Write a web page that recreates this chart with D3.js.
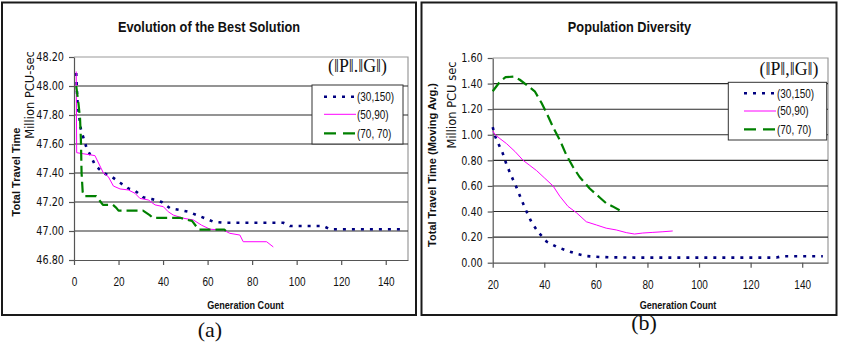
<!DOCTYPE html>
<html><head><meta charset="utf-8">
<script src="https://cdn.jsdelivr.net/npm/d3@7"></script>
<style>body{margin:0;background:#fff}</style>
</head><body>
<svg id="c" width="843" height="342" xmlns="http://www.w3.org/2000/svg"></svg>
<script>
// ---------- data ----------
const legendLabels = ["(30,150)", "(50,90)", "(70, 70)"];

const titleA = "Evolution of the Best Solution";
const headerA = "(\u2016P\u2016.\u2016G\u2016)";
const yTitleA = ["Total Travel Time", "Million PCU-sec"];
const xTicksA = [0, 20, 40, 60, 80, 100, 120, 140];
const yTicksA = [46.8, 47.0, 47.2, 47.4, 47.6, 47.8, 48.0, 48.2];

const titleB = "Population Diversity";
const headerB = "(\u2016P\u2016,\u2016G\u2016)";
const yTitleB = ["Total Travel Time (Moving Avg.)", "Million PCU sec"];
const xTicksB = [20, 40, 60, 80, 100, 120, 140];
const yTicksB = [0, 0.2, 0.4, 0.6, 0.8, 1.0, 1.2, 1.4, 1.6];
const xLabel = "Generation Count";

// Evolution of the best solution
const bestP30G150 = [[1,48.09],[1.5,47.90],[2,47.83],[3.1,47.70],[5.7,47.57],[7.5,47.52],[9.4,47.455],[13.2,47.40],[16.9,47.375],[20.7,47.333],[24.4,47.294],[27.4,47.278],[31.1,47.232],[35.6,47.218],[39.4,47.20],[43.1,47.157],[47.6,47.145],[51.3,47.133],[55.1,47.11],[58.8,47.088],[62.6,47.064],[67,47.057],[94,47.057],[97,47.034],[112,47.034],[115,47.012],[149,47.012]];
const bestP50G90 = [[1,48.10],[1.2,47.54],[9.4,47.52],[13.2,47.40],[15.4,47.375],[17.7,47.31],[20.7,47.29],[24.4,47.283],[27.4,47.26],[29.6,47.225],[33.4,47.214],[36.4,47.18],[40.1,47.168],[42.3,47.133],[44.6,47.11],[49.1,47.088],[53.6,47.076],[57.3,47.04],[61.1,47.012],[67,47.007],[70,46.984],[74.5,46.972],[76,46.926],[86.5,46.926],[89.5,46.89]];
const bestP70G70 = [[1,48.00],[2,47.88],[2.7,47.78],[3.1,47.63],[3.4,47.40],[3.9,47.27],[4.5,47.24],[10,47.24],[12,47.20],[13,47.18],[17.5,47.18],[19,47.16],[20,47.14],[31,47.14],[34,47.11],[35.5,47.09],[48,47.09],[50,47.08],[53,47.07],[55.5,47.02],[56,47.01],[67.5,47.01],[69,46.99]];

// Population diversity (moving average)
const divP30G150 = [[20,1.06],[20.9,0.99],[22.2,0.93],[23.9,0.855],[25.4,0.765],[27.3,0.675],[29.3,0.585],[31.2,0.49],[33.1,0.40],[35.1,0.315],[37.6,0.24],[40.9,0.165],[44.7,0.125],[48.6,0.095],[52.5,0.07],[56.3,0.052],[60.2,0.046],[65.3,0.042],[75,0.04],[100,0.04],[130,0.04],[132,0.05],[148,0.05]];
const divP50G90 = [[20,1.03],[21,1.0],[22.8,0.97],[25.4,0.93],[28.6,0.87],[31.8,0.80],[34.4,0.76],[37,0.72],[40.2,0.66],[43.4,0.60],[46,0.52],[49.2,0.44],[52.5,0.39],[56.3,0.32],[60.2,0.295],[64,0.27],[67.9,0.256],[71.8,0.235],[75,0.224],[78.2,0.232],[82.1,0.237],[86,0.242],[89.8,0.248]];
const divP70G70 = [[20,1.34],[22.8,1.415],[25,1.45],[28,1.455],[30.5,1.43],[33.8,1.38],[36.3,1.34],[38.9,1.25],[40.9,1.17],[43.4,1.06],[46,0.96],[48.6,0.84],[51.1,0.75],[53.7,0.67],[57.6,0.58],[61.5,0.51],[64,0.465],[66.5,0.44],[69.2,0.41]];

// ---------- styles ----------
const styles = [
  {stroke:"#000080", width:2.6, dash:"3,6", legendDash:"3,6"},
  {stroke:"#ff00ff", width:1, dash:null, legendDash:null},
  {stroke:"#008000", width:2.2, dash:"11,5", legendDash:"12,7"}
];
const SANS = "'Liberation Sans', Arial, sans-serif";
const SERIF = "'Liberation Serif', 'DejaVu Serif', serif";
const TAHOMA = "'DejaVu Sans', Verdana, sans-serif";

const svg = d3.select("#c");

function squeeze(sel, k){
  sel.each(function(){
    const w = this.getComputedTextLength();
    this.setAttribute("textLength", w * k);
    this.setAttribute("lengthAdjust", "spacingAndGlyphs");
  });
}

function panel(o){
  const g = svg.append("g");
  g.append("rect").attr("x",o.frame[0]).attr("y",o.frame[1]).attr("width",o.frame[2]).attr("height",o.frame[3])
    .attr("fill","#fff").attr("stroke","#1a1a1a").attr("stroke-width",2);

  const x = d3.scaleLinear().domain(o.xDomain).range([o.L, o.R]);
  const y = d3.scaleLinear().domain([o.yTicks[0], o.yTicks[o.yTicks.length-1]]).range([o.B, o.T]);

  // plot border (top/right)
  g.append("path").attr("d",`M${o.L},${o.T}H${o.R}V${o.B}`).attr("fill","none").attr("stroke","#9a9a9a").attr("stroke-width",1.2);
  // grid
  g.append("g").selectAll("line").data(o.yTicks.slice(1,-1)).join("line")
    .attr("x1",o.L).attr("x2",o.R).attr("y1",d=>y(d)).attr("y2",d=>y(d))
    .attr("stroke","#2a2a2a").attr("stroke-width",1.1);

  // axes
  const ya = g.append("g").attr("transform",`translate(${o.L},0)`)
    .call(d3.axisLeft(y).tickValues(o.yTicks).tickFormat(d3.format(".2f")).tickSize(5).tickSizeOuter(0).tickPadding(5));
  ya.attr("font-family",TAHOMA).attr("font-size",11.5);
  ya.selectAll("path,line").attr("stroke","#555").attr("stroke-width",1.2);
  ya.selectAll("text").attr("fill","#111");
  squeeze(ya.selectAll("text"), 0.84);

  const xa = g.append("g").attr("transform",`translate(0,${o.B})`)
    .call(d3.axisBottom(x).tickValues(o.xTicks).tickSize(5).tickSizeOuter(0).tickPadding(12));
  xa.attr("font-family",SANS).attr("font-size",13);
  xa.selectAll("path,line").attr("stroke","#555").attr("stroke-width",1.2);
  xa.selectAll("text").attr("fill","#111");
  squeeze(xa.selectAll("text"), 0.77);

  // series
  const line = d3.line().x(d=>x(d[0])).y(d=>y(d[1]));
  o.series.forEach((s,i)=>{
    const st = styles[i];
    g.append("path").datum(s).attr("d",line).attr("fill","none")
      .attr("stroke",st.stroke).attr("stroke-width",st.width)
      .attr("stroke-dasharray",st.dash).attr("stroke-linejoin","round");
  });

  // titles
  const t = g.append("text").attr("x",o.titleX).attr("y",31.5).attr("text-anchor","middle")
    .attr("font-family",SANS).attr("font-weight","bold").attr("font-size",15).attr("fill","#111").text(o.title);
  squeeze(t, 0.85);
  const xl = g.append("text").attr("x",o.xLabelX).attr("y",308.5).attr("text-anchor","middle")
    .attr("font-family",SANS).attr("font-weight","bold").attr("font-size",11.5).attr("fill","#111").text(xLabel);
  squeeze(xl, 0.79);

  // y titles
  g.append("text").attr("transform",`translate(${o.yt1[0]},${o.yt1[1]}) rotate(-90)`).attr("text-anchor","middle")
    .attr("font-family",SANS).attr("font-weight","bold").attr("font-size",11).attr("fill","#111").text(o.yTitle[0]);
  g.append("text").attr("transform",`translate(${o.yt2[0]},${o.yt2[1]}) rotate(-90)`).attr("text-anchor","middle")
    .attr("font-family",TAHOMA).attr("font-size",11.5).attr("fill","#111").text(o.yTitle[1]);

  // header
  const h = g.append("text").attr("x",o.header[0]).attr("y",o.header[1]).attr("text-anchor","middle")
    .attr("font-family",SERIF).attr("font-size",18).attr("fill","#111").text(o.headerText);
  h.attr("textLength",59).attr("lengthAdjust","spacingAndGlyphs");

  // legend
  const lb = o.legend;
  g.append("rect").attr("x",lb.x).attr("y",lb.y).attr("width",lb.w).attr("height",lb.h)
    .attr("fill","#fff").attr("stroke","#333").attr("stroke-width",1);
  legendLabels.forEach((lab,i)=>{
    const yy = lb.rows[i];
    const st = styles[i];
    g.append("line").attr("x1",lb.lx0).attr("x2",lb.lx1).attr("y1",yy).attr("y2",yy)
      .attr("stroke",st.stroke).attr("stroke-width",st.width).attr("stroke-dasharray",st.legendDash);
    const tx = g.append("text").attr("x",lb.lx1+1).attr("y",yy).attr("dy","0.36em")
      .attr("font-family",SANS).attr("font-size",12).attr("fill","#111").text(lab);
    squeeze(tx, 0.83);
  });

  // caption
  g.append("text").attr("x",o.caption[0]).attr("y",o.caption[1]).attr("text-anchor","middle")
    .attr("font-family",SERIF).attr("font-size",22).attr("fill","#111").text(o.captionText);
}

panel({
  frame:[2,2.5,414,312.5], L:74, R:408, T:57, B:260,
  xDomain:[0,150], xTicks:xTicksA, yTicks:yTicksA,
  series:[bestP30G150,bestP50G90,bestP70G70],
  title:titleA, titleX:209, xLabelX:245.5,
  yTitle:yTitleA, yt1:[20,172], yt2:[34,95],
  headerText:headerA, header:[357.5,71.5],
  legend:{x:312,y:85,w:91,h:59,rows:[96.7,114.3,133.3],lx0:324,lx1:356},
  captionText:"(a)", caption:[210,337]
});

panel({
  frame:[421.5,2.5,415,312.5], L:492.7, R:828, T:58, B:262.7,
  xDomain:[20,150], xTicks:xTicksB, yTicks:yTicksB,
  series:[divP30G150,divP50G90,divP70G70],
  title:titleB, titleX:629.5, xLabelX:678,
  yTitle:yTitleB, yt1:[435.5,165], yt2:[456,105],
  headerText:headerB, header:[789,74.5],
  legend:{x:728.3,y:82.3,w:98.4,h:57.7,rows:[93.3,111,129.3],lx0:744,lx1:776},
  captionText:"(b)", caption:[644,330]
});
</script>
</body></html>
